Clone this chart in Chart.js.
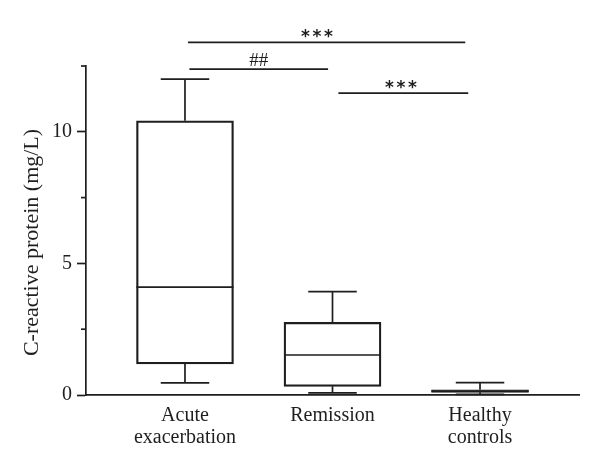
<!DOCTYPE html>
<html><head><meta charset="utf-8">
<script src="https://cdn.jsdelivr.net/npm/chart.js@4/dist/chart.umd.min.js"></script>
<style>html,body{margin:0;padding:0;background:#fff}#wrap{width:600px;height:469px}</style>
</head><body><div id="wrap"><canvas id="c" width="600" height="469"></canvas></div>
<script>
const categories = [['Acute', 'exacerbation'], ['Remission'], ['Healthy', 'controls']];
const whiskerMin = [0.46, 0.08, 0.02];
const q1 = [1.18, 0.33, 0.10];
const median = [4.10, 1.52, 0.15];
const q3 = [10.42, 2.76, 0.20];
const whiskerMax = [12.0, 3.93, 0.47];
const yTicks = [0, 2.5, 5, 7.5, 10, 12.5];
const yLabelled = [0, 5, 10];
const yTitle = 'C-reactive protein (mg/L)';
const sigLabels = ['***', '##', '***'];
const sigFrom = [0.02, 0.03, 1.04];
const sigTo = [1.90, 0.97, 1.92];
const sigLevel = [13.4, 12.38, 11.47];
const sigTextAt = [0.895, 0.50, 1.464];

const INK = '#1e1e1e';
const SERIF = "'Liberation Serif', 'Times New Roman', serif";
Chart.defaults.font.family = SERIF;
Chart.defaults.color = INK;

function drawCentered(ctx, text, cx, cy) {
  const m = ctx.measureText(text);
  const asc = m.actualBoundingBoxAscent, desc = m.actualBoundingBoxDescent;
  ctx.fillText(text, cx, cy + (asc - desc) / 2);
}

const boxPlugin = {
  id: 'boxParts',
  afterDatasetsDraw(chart) {
    const ctx = chart.ctx, y = chart.scales.y;
    const meta = chart.getDatasetMeta(0);
    ctx.save();
    ctx.strokeStyle = INK; ctx.lineWidth = 1.7; ctx.lineCap = 'butt';
    meta.data.forEach((el, i) => {
      const cx = el.x, w = el.width;
      const left = cx - w / 2, right = cx + w / 2;
      const yMed = y.getPixelForValue(median[i]);
      const yQ1 = y.getPixelForValue(q1[i]), yQ3 = y.getPixelForValue(q3[i]);
      const yMin = y.getPixelForValue(whiskerMin[i]), yMax = y.getPixelForValue(whiskerMax[i]);
      ctx.beginPath();
      ctx.moveTo(left, yMed); ctx.lineTo(right, yMed);
      ctx.moveTo(cx, yQ3); ctx.lineTo(cx, yMax);
      ctx.moveTo(cx - w / 4, yMax); ctx.lineTo(cx + w / 4, yMax);
      ctx.moveTo(cx, yQ1); ctx.lineTo(cx, yMin);
      ctx.moveTo(cx - w / 4, yMin); ctx.lineTo(cx + w / 4, yMin);
      ctx.stroke();
    });
    ctx.restore();
  },
  afterDraw(chart) {
    const ctx = chart.ctx, x = chart.scales.x, y = chart.scales.y;
    ctx.save();
    ctx.strokeStyle = INK; ctx.lineWidth = 1.7;
    ctx.fillStyle = INK;
    ctx.textAlign = 'center';
    ctx.textBaseline = 'alphabetic';
    yTicks.forEach(v => {
      if (yLabelled.includes(v)) return;
      const py = y.getPixelForValue(v);
      ctx.beginPath(); ctx.moveTo(x.left - 5, py); ctx.lineTo(x.left, py); ctx.stroke();
    });
    sigLabels.forEach((lab, i) => {
      const py = y.getPixelForValue(sigLevel[i]);
      ctx.beginPath();
      ctx.moveTo(x.getPixelForValue(sigFrom[i]), py);
      ctx.lineTo(x.getPixelForValue(sigTo[i]), py);
      ctx.stroke();
      const tx = x.getPixelForValue(sigTextAt[i]);
      if (lab.includes('*')) {
        ctx.font = "bold 17px 'DejaVu Sans', sans-serif";
        const n = lab.length, gap = 11.5;
        for (let k = 0; k < n; k++) {
          drawCentered(ctx, '*', tx + (k - (n - 1) / 2) * gap, py - 8.5);
        }
      } else {
        ctx.font = '19px ' + SERIF;
        drawCentered(ctx, lab, tx, py - 10);
      }
    });
    ctx.font = '22px ' + SERIF;
    ctx.translate(32, (y.top + y.bottom) / 2 + 12);
    ctx.rotate(-Math.PI / 2);
    ctx.textBaseline = 'middle';
    ctx.fillText(yTitle, 0, 0);
    ctx.restore();
  }
};

new Chart(document.getElementById('c'), {
  type: 'bar',
  data: {
    datasets: [{
      data: q1.map((v, i) => ({ x: i, y: [v, q3[i]] })),
      backgroundColor: 'rgba(255,255,255,0)',
      borderColor: INK,
      borderWidth: 1.6,
      borderSkipped: false,
      barThickness: 97
    }]
  },
  options: {
    responsive: false,
    animation: false,
    events: [],
    layout: { padding: { top: 66, right: 21, left: 0, bottom: 0 } },
    plugins: { legend: { display: false }, tooltip: { enabled: false } },
    scales: {
      x: {
        type: 'linear', min: -0.671, max: 2.671, offset: false,
        afterBuildTicks: s => { s.ticks = categories.map((c, i) => ({ value: i })); },
        afterFit: s => { s.height = 74; },
        ticks: {
          callback: v => categories[v], autoSkip: false, maxRotation: 0,
          font: { size: 20, lineHeight: 1.08 }, padding: 10, color: INK
        },
        grid: { drawOnChartArea: false, drawTicks: false, offset: false },
        border: { color: INK, width: 1.7 }
      },
      y: {
        min: 0, max: 12.5,
        afterBuildTicks: s => { s.ticks = yTicks.map(v => ({ value: v })); },
        afterFit: s => { s.width = 86; },
        ticks: {
          callback: v => (yLabelled.includes(v) ? String(v) : ''),
          font: { size: 20 }, padding: 5, color: INK
        },
        grid: {
          drawOnChartArea: false, tickLength: 9, tickWidth: 1.7,
          tickColor: c => (c.tick && yLabelled.includes(c.tick.value) ? INK : 'rgba(0,0,0,0)')
        },
        border: { color: INK, width: 1.7 },
        title: { display: false }
      }
    }
  },
  plugins: [boxPlugin]
});
</script></body></html>
